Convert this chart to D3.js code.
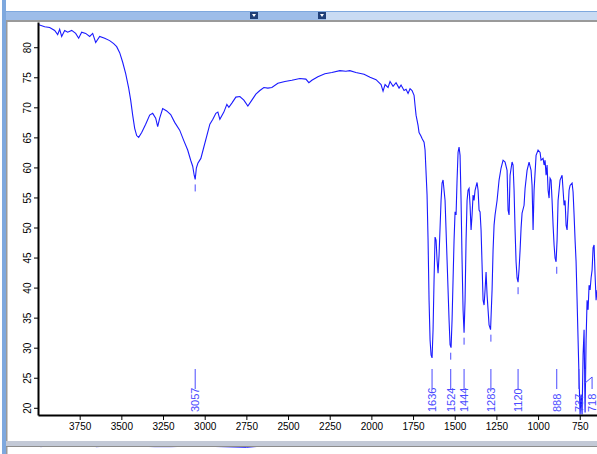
<!DOCTYPE html>
<html>
<head>
<meta charset="utf-8">
<script src="https://cdn.jsdelivr.net/npm/d3@7"></script>
<style>
  html, body { margin: 0; padding: 0; background: #fff; overflow: hidden; }
  svg { display: block; font-family: "Liberation Sans", Arial, sans-serif; }
</style>
</head>
<body>
<script>
// IR spectrum, wavenumber (cm-1) vs %T

let wavenumber = [4000,3960,3930,3900,3882,3870,3858,3840,3822,3798,3774,3756,3738,3714,3690,3672,3654,3630,3600,3570,3546,3528,
  3510,3492,3474,3456,3444,3432,3420,3408,3396,3378,3354,3330,3312,3294,3282,3270,3252,3228,3204,3180,3150,3126,3102,3084,3072,3063,3057,
  3050,3041,3023,3005,2987,2969,2951,2933,2921,2909,2885,2867,2855,2837,2813,2789,2765,2741,2717,2693,2669,2645,2621,2597,2561,2519,2477,
  2429,2393,2375,2357,2321,2279,2237,2189,2153,2129,2093,2044,2008,1972,1942,1930,1918,1900,1888,1870,1852,1834,1822,1804,1792,1780,1768,
  1756,1744,1738,1732,1720,1714,1702,1696,1684,1678,1666,1660,1654,1648,1642,1636,1630,1624,1618,1612,1606,1600,1594,1582,1576,1570,1558,
  1546,1534,1528,1522,1516,1510,1504,1498,1492,1486,1480,1474,1468,1462,1456,1450,1444,1438,1432,1426,1420,1414,1408,1402,1396,1390,1384,
  1378,1366,1360,1354,1348,1342,1336,1330,1324,1318,1312,1306,1300,1294,1285,1276,1270,1264,1258,1246,1234,1222,1210,1198,1186,1180,1174,
  1168,1156,1150,1144,1138,1132,1126,1120,1114,1108,1102,1096,1084,1078,1066,1054,1042,1036,1030,1024,1012,1000,988,982,970,964,958,952,
  946,940,934,928,922,916,910,904,898,892,886,880,868,856,850,844,838,832,826,820,814,808,796,790,784,778,772,766,760,754,748,742,736,730,
  724,718,712,706,700,694,688,682,676,670,664,658,652,646];

let transmittance = [83.8,83.4,83.3,82.8,82.1,83.0,81.8,82.8,82.5,82.8,82.3,81.5,82.5,82.3,81.8,82.3,80.8,81.8,81.5,81.1,80.6,80.1,
  79.1,77.5,75.6,73.2,71.2,68.7,66.5,65.3,65.0,65.8,67.2,68.7,69.0,68.2,66.8,68.2,69.8,69.4,68.8,67.5,66.2,64.5,62.9,61.2,60.2,58.7,58.0,
  59.9,60.7,61.5,63.4,65.3,67.2,68.0,69.0,69.2,68.0,69.2,70.5,70.0,70.7,71.7,71.8,71.2,70.2,71.2,72.2,72.8,73.3,73.2,73.3,74.0,74.3,74.5,
  74.8,74.7,74.1,74.5,75.1,75.6,75.8,76.1,76.0,76.1,75.8,75.5,75.0,74.6,73.8,72.7,73.8,73.3,74.3,73.5,74.1,73.2,73.7,72.8,73.0,72.3,73.1,
  72.8,72.0,70.3,68.7,67.0,65.8,65.2,64.8,64.2,62.9,55.4,47.9,37.9,31.3,28.8,28.3,33.0,41.3,48.4,47.9,44.6,42.4,45.4,54.5,57.4,57.9,54.5,
  44.6,34.6,30.5,30.0,34.6,41.3,47.9,52.6,52.1,57.9,62.5,63.4,62.0,54.5,44.6,36.3,32.5,37.9,47.9,54.5,56.2,56.5,53.7,49.6,52.1,55.4,54.5,
  56.2,57.5,56.2,52.9,52.6,49.6,43.8,37.9,37.1,39.6,42.6,38.8,36.3,33.8,33.0,39.6,46.2,50.4,52.1,54.5,57.9,59.9,61.2,60.9,59.5,52.9,52.1,
  58.7,60.9,60.4,56.2,49.6,44.3,41.6,40.9,43.1,46.2,49.9,52.4,53.7,56.5,59.5,60.9,59.5,57.0,49.6,56.2,62.0,62.9,62.5,61.2,61.5,60.4,61.2,58.7,
  60.4,56.2,54.9,58.2,57.9,54.5,50.4,47.1,44.9,44.3,47.9,54.5,57.9,58.7,56.2,53.7,54.5,50.4,49.6,52.9,56.2,57.0,57.4,55.9,52.1,47.9,44.3,37.9,31.3,24.7,18.9,22.2,18.9,28.8,
  33.0,19.2,31.3,37.9,36.3,40.4,39.6,41.6,42.9,46.6,47.1,42.1,37.9,39.6];

// picked peaks: label, %T at the minimum, label nudge in px
let peakLabels = ["3057","1636","1524","1444","1283","1120","888","737","718"];
let peakWave   = [3057, 1636, 1524, 1444, 1283, 1120, 888, 737, 718];
let peakT      = [58.0, 28.3, 30.0, 32.5, 33.0, 40.9, 44.3, 18.9, 19.2];
let peakShift  = [0, 0, 0, 0, 0, 0, 0, -3, 7];

let xTicks = [3750,3500,3250,3000,2750,2500,2250,2000,1750,1500,1250,1000,750];
let yTicks = [20,25,30,35,40,45,50,55,60,65,70,75,80];

// second spectrum window peeking in at the bottom
let lowerWave = [3985,3880,3800,3700,3650,3560,3450,3300,3200,3050,2900,2750,2600,2450,2300,2200,2100,2000,1900];
let lowerT    = [60,62,61,62,60,61,61,60,60,61,60,59,62,63,63,63,62,61,62];

let W = 597, H = 454;
let svg = d3.select("body").append("svg").attr("width", W).attr("height", H);

// window chrome
svg.append("rect").attr("x", 2).attr("y", 0).attr("width", 4).attr("height", H).attr("fill", "#7ea8de");
svg.append("rect").attr("x", 6).attr("y", 11).attr("width", W - 6).attr("height", 9).attr("fill", "#c9dbf3");
svg.append("rect").attr("x", 6).attr("y", 11).attr("width", 320).attr("height", 9).attr("fill", "#9dbde9");
svg.append("rect").attr("x", 6).attr("y", 11).attr("width", W - 6).attr("height", 1).attr("fill", "#7ea8de");
[250, 318].forEach(bx => {
  svg.append("rect").attr("x", bx).attr("y", 12).attr("width", 8).attr("height", 7).attr("fill", "#1f3f78");
  svg.append("path").attr("d", `M${bx + 2},14 L${bx + 6},14 L${bx + 4},17 Z`).attr("fill", "#fff");
});
svg.append("rect").attr("x", 6).attr("y", 20).attr("width", W - 6).attr("height", 2).attr("fill", "#9a9a9a");
svg.append("rect").attr("x", 6).attr("y", 22).attr("width", 1.5).attr("height", H - 22).attr("fill", "#9a9a9a");
svg.append("rect").attr("x", 6).attr("y", 441).attr("width", W - 6).attr("height", 5).attr("fill", "#c3c9d6");
svg.append("rect").attr("x", 6).attr("y", 446).attr("width", W - 6).attr("height", 1).attr("fill", "#8c8c8c");

let x = d3.scaleLinear().domain([4000, 646.5]).range([38, 597]);
let y = d3.scaleLinear().domain([18.8, 84.2]).range([415, 22]);

svg.append("clipPath").attr("id", "plot")
  .append("rect").attr("x", 38).attr("y", 22).attr("width", 559).attr("height", 393);

let line = d3.line().x((d, i) => x(wavenumber[i])).y(d => y(d));

svg.append("path")
  .attr("clip-path", "url(#plot)")
  .attr("d", line(transmittance))
  .attr("fill", "none")
  .attr("stroke", "#1a1aff")
  .attr("stroke-width", 1.1);

// peak markers
let peakColor = "#4a4aff";
peakLabels.forEach((lab, i) => {
  let px = x(peakWave[i]);
  let lx = px + peakShift[i];
  let py = y(peakT[i]);
  if (py + 12 < 368) {
    svg.append("line").attr("x1", px).attr("x2", px).attr("y1", py + 5).attr("y2", py + 12)
      .attr("stroke", peakColor).attr("stroke-width", 1);
  }
  if (peakShift[i] > 0) {
    svg.append("path").attr("d", `M${px},369 L${px},383 L${lx},377 L${lx},389`)
      .attr("fill", "none").attr("stroke", peakColor).attr("stroke-width", 1);
  } else {
    svg.append("line").attr("x1", lx).attr("x2", lx).attr("y1", 369).attr("y2", 389)
      .attr("stroke", peakColor).attr("stroke-width", 1);
  }
  svg.append("text")
    .attr("transform", `translate(${lx + 4},412) rotate(-90)`)
    .attr("font-size", 11)
    .attr("fill", peakColor)
    .text(lab);
});

// axes
let xAxis = svg.append("g").attr("transform", "translate(0,415)")
  .call(d3.axisBottom(x).tickValues(xTicks).tickSize(5).tickSizeOuter(0).tickFormat(d3.format("d")));
xAxis.select(".domain").attr("stroke", "#000").attr("stroke-width", 2);
xAxis.selectAll(".tick line").attr("stroke", "#000");
xAxis.selectAll(".tick text").attr("font-size", 10).attr("font-family", "Liberation Sans, Arial, sans-serif")
  .attr("fill", "#000").attr("y", 8);

let yAxis = svg.append("g").attr("transform", "translate(38,0)")
  .call(d3.axisLeft(y).tickValues(yTicks).tickSize(4).tickSizeOuter(0));
yAxis.select(".domain").attr("stroke", "#000").attr("stroke-width", 2);
yAxis.selectAll(".tick line").attr("stroke", "#000");
yAxis.selectAll(".tick text")
  .attr("font-size", 10).attr("font-family", "Liberation Sans, Arial, sans-serif").attr("fill", "#000")
  .attr("x", null).attr("dy", null)
  .attr("text-anchor", "middle")
  .attr("transform", "translate(-7,0) rotate(-90)");

// lower window's trace
let y2 = d3.scaleLinear().domain([40, 70]).range([460, 440]);
svg.append("clipPath").attr("id", "lower")
  .append("rect").attr("x", 8).attr("y", 447).attr("width", W - 8).attr("height", 7);
svg.append("path")
  .attr("clip-path", "url(#lower)")
  .attr("d", d3.line().x((d, i) => x(lowerWave[i])).y(d => y2(d))(lowerT))
  .attr("fill", "none").attr("stroke", "#1a1aff").attr("stroke-width", 1);
</script>
</body>
</html>
